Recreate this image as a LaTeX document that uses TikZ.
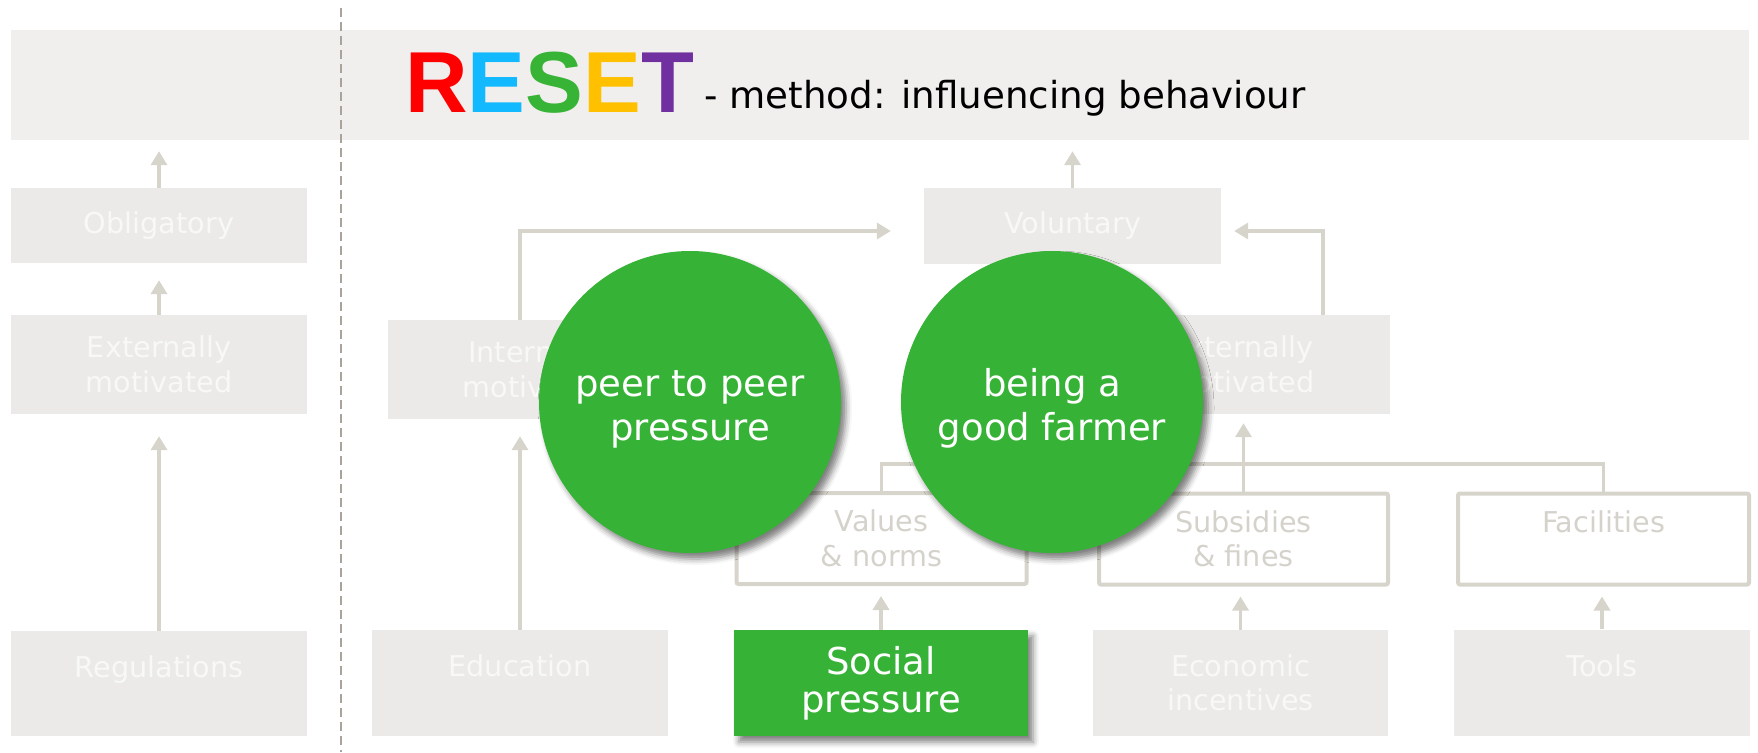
\documentclass[tikz,border=0pt]{standalone}
\usepackage{fontspec}
\setmainfont{DejaVu Sans}
\newfontfamily\titlefont{Liberation Sans}
\usetikzlibrary{arrows.meta}
\usetikzlibrary{positioning}
\usetikzlibrary{shadows.blur}
\definecolor{bandgrey}{HTML}{F0EFED}
\definecolor{boxgrey}{HTML}{EBEAE8}
\definecolor{boxtext}{HTML}{F8F8F6}
\definecolor{linegrey}{HTML}{D6D4CB}
\definecolor{outtext}{HTML}{D4D2CB}
\definecolor{dashgrey}{HTML}{A9A39C}
\definecolor{rgreen}{HTML}{36B336}
\definecolor{resetr}{HTML}{FF0000}
\definecolor{resete}{HTML}{12B9FF}
\definecolor{resets}{HTML}{37B336}
\definecolor{resetee}{HTML}{FFC000}
\definecolor{resett}{HTML}{7030A0}
\newcommand{\bubblelift}{\rule{0pt}{40pt}}
\tikzset{greybox/.style = {rectangle, fill=boxgrey, text=boxtext, inner sep=0pt,
                           minimum width=296pt, minimum height=#1, align=center,
                           font=\fontsize{28.7}{34.5}\selectfont},
         greybox/.default = 99pt}
\tikzset{outbox/.style = {rectangle, draw=linegrey, line width=4pt, rounded corners=2pt,
                          text=outtext, inner sep=0pt, minimum width=290pt,
                          minimum height=91pt, align=center,
                          font=\fontsize{28.7}{34.5}\selectfont}}
\tikzset{arr/.style = {draw=linegrey, line width=3.5pt, -{Triangle[width=16pt, length=14pt]}}}
\tikzset{link/.style = {draw=linegrey, line width=3.5pt}}
\tikzset{softshadow/.style = {blur shadow={shadow xshift=5pt, shadow yshift=-6pt,
                                           shadow blur radius=6pt, shadow opacity=50}}}
\tikzset{bubble/.style = {circle, fill=rgreen, text=white, minimum size=302pt, inner sep=0pt,
                          align=center, font=\fontsize{37}{44}\selectfont, softshadow}}

\begin{document}
\begin{tikzpicture}[x=1pt, y=-1pt]
  \useasboundingbox (0, 0) rectangle (1758, 752);
  % title band
  \node [rectangle, fill=bandgrey, minimum width=1738pt, minimum height=110pt, inner sep=0pt] (band) at (880, 85) {};
  \draw [dashgrey, line width=2.5pt, dash pattern=on 9pt off 5pt] (341, 8) -- (341, 752);
  \node [anchor=base west, inner sep=0pt, font=\titlefont\bfseries\fontsize{86.6}{90}\selectfont] (reset) at (405, 112)
        {\textcolor{resetr}{R}\textcolor{resete}{E}\textcolor{resets}{S}\textcolor{resetee}{E}\textcolor{resett}{T}};
  \node [base right=10pt of reset, yshift=4pt, inner sep=0pt, font=\fontsize{37.2}{40}\selectfont] (method)
        {- method: influencing behaviour};

  % obligatory side
  \node [greybox=75pt] (obl) at (159, 225.5) {Obligatory};
  \node [greybox] (extl) at (159, 364.5) {Externally\\motivated};
  \node [greybox=105pt] (reg) at (159, 683.5) {Regulations\\~};
  \draw [arr, shorten >=11pt] (obl.north) -- (obl.north |- band.south);
  \draw [arr, shorten >=17pt] (extl.north) -- (extl.north |- obl.south);
  \draw [arr, shorten >=22pt] (reg.north) -- (reg.north |- extl.south);

  % voluntary side
  \node [greybox=76pt, minimum width=297pt] (vol) at (1072.5, 226) {Voluntary};
  \node [greybox] (int) at (536, 369.5) {Internally\\motivated};
  \node [greybox, minimum width=298pt] (extr) at (1241, 364.5) {Externally\\motivated};
  \node [greybox=106pt] (edu) at (520, 683) {Education\\~};
  \node [greybox=106pt, minimum width=295pt] (eco) at (1240.5, 683) {Economic\\incentives};
  \node [greybox=106pt] (tools) at (1602, 682.5) {Tools\\~};
  \node [outbox] (val) at (881.5, 538.5) {Values\\\& norms};
  \node [outbox, minimum width=289pt] (sub) at (1243.5, 539) {Subsidies\\\& fines};
  \node [outbox, minimum width=291pt] (fac) at (1603.5, 539) {Facilities\\~};

  \draw [arr, shorten >=11pt] (vol.north) -- (vol.north |- band.south);
  \draw [arr, shorten >=33pt] (edu.north |- int.north) |- ([yshift=-5pt]vol.west);
  \draw [arr, shorten >=13pt] ([xshift=82pt]extr.north) |- ([yshift=-5pt]vol.east);
  \draw [arr, shorten >=17pt] (edu.north) -- (edu.north |- int.south);
  \draw [link] (val.north) -- ++(0, -27) -| (fac.north);
  \draw [arr, shorten >=9pt] (sub.north) -- (sub.north |- extr.south);
  \draw [arr, shorten >=10pt] (eco.north) -- (eco.north |- sub.south);
  \draw [arr, shorten >=10pt] (tools.north) -- (tools.north |- fac.south);

  % highlighted
  \node [rectangle, fill=rgreen, text=white, minimum width=294pt, minimum height=106pt, inner sep=0pt,
         align=center, font=\fontsize{37}{38}\selectfont, softshadow] (soc) at (881, 683) {Social\\pressure};
  \draw [arr, shorten >=10pt] (soc.north) -- (soc.north |- val.south);
  \node [bubble] (peer) at (690, 402) {\bubblelift peer to peer\\pressure};
  \node [bubble] (farmer) at (1052, 402) {\bubblelift being a\\good farmer};
\end{tikzpicture}
\end{document}
